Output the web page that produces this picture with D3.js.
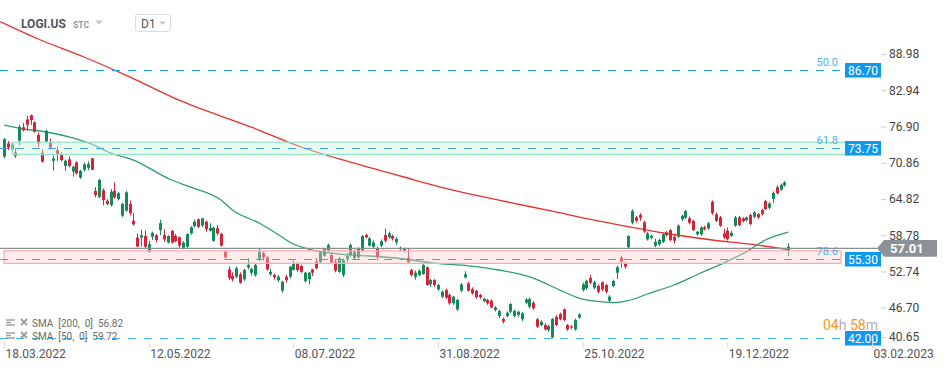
<!DOCTYPE html>
<html>
<head>
<meta charset="utf-8">
<script src="https://cdn.jsdelivr.net/npm/d3@7"></script>
<style>
  body { margin: 0; background: #fff; font-family: Roboto, "Open Sans", sans-serif; }
  svg { display: block; }
</style>
</head>
<body>
<div id="chart"></div>
<script>

// ----------------------------------------------------------------
// Data (LOGI.US, D1)
// ----------------------------------------------------------------

const dateLabels = ["18.03.2022", "12.05.2022", "08.07.2022", "31.08.2022", "25.10.2022", "19.12.2022", "03.02.2023"];
const dateLabelIdx = [0, 38, 76, 114, 152, 190, 228];
const priceTicks = [88.98, 82.94, 76.90, 70.86, 64.82, 58.78, 52.74, 46.70, 40.65];

const opens = [
  72.3, 74.5, 73.5, 73.0, 74.95, 77.2, 78.5, 79.2, 78.0, 75.9,
  72.95, 74.8, 74.6, 71.6, 73.4, 72.6, 70.75, 71.85, 69.8, 71.35,
  68.8, 70.1, 70.45, 72.0, 66.6, 65.6, 66.7, 64.95, 64.2, 66.6,
  65.2, 62.45, 63.3, 64.4, 61.6, 58.8, 58.8, 59.06, 56.45, 58.95,
  59.2, 60.06, 59.2, 58.0, 59.9, 59.06, 58.85, 57.1, 57.28, 59.5,
  60.7, 61.85, 60.8, 61.45, 59.95, 58.28, 60.35, 59.4, 56.45, 53.5,
  52.4, 52.28, 52.68, 51.85, 53.85, 52.95, 52.56, 55.06, 56.2, 55.5,
  52.68, 52.56, 51.7, 49.95, 52.28, 52.28, 53.4, 54.5, 54.06, 51.56,
  51.85, 53.5, 54.78, 54.78, 55.78, 56.6, 55.9, 54.78, 53.1, 52.56,
  55.18, 55.9, 55.35, 55.5, 56.56, 59.23, 57.45, 57.28, 57.0, 57.45,
  59.23, 58.85, 59.06, 58.0, 56.85, 56.56, 55.45, 53.4, 52.28, 52.56,
  52.73, 53.85, 51.0, 51.73, 50.18, 48.95, 50.06, 49.23, 47.85, 46.85,
  49.95, 52.18, 51.18, 50.23, 49.9, 49.23, 48.23, 48.4, 48.3, 46.73,
  45.73, 45.23, 45.73, 46.45, 45.73, 45.9, 45.18, 47.95, 47.28, 47.95,
  45.18, 44.23, 44.23, 43.4, 42.18, 45.6, 46.06, 46.85, 44.23, 44.0,
  43.5, 45.45, 50.06, 50.35, 52.1, 50.45, 50.73, 51.35, 50.9, 48.28,
  50.73, 52.95, 55.45, 54.4, 57.18, 61.28, 62.18, 62.56, 61.35, 58.5,
  58.78, 57.45, 57.68, 58.1, 59.68, 60.06, 58.95, 58.95, 61.85, 62.1,
  62.0, 61.6, 59.35, 59.35, 60.5, 60.35, 64.78, 62.68, 62.18, 59.5,
  59.95, 59.1, 60.78, 62.18, 62.0, 61.73, 62.56, 62.28, 62.73, 63.4,
  64.9, 63.78, 65.23, 67.2, 66.8, 67.5, 56.6
];
const highs = [
  75.4, 74.9, 74.7, 73.7, 77.6, 77.9, 79.1, 79.3, 78.2, 76.3,
  73.5, 76.8, 75.3, 72.5, 74.0, 73.0, 71.8, 72.3, 70.8, 71.5,
  70.1, 71.3, 71.5, 72.1, 67.2, 68.6, 67.0, 65.2, 66.9, 68.0,
  66.4, 64.6, 66.6, 65.0, 62.9, 59.5, 60.1, 60.0, 58.3, 59.8,
  59.4, 61.8, 60.2, 59.2, 60.1, 59.4, 59.0, 58.2, 59.5, 60.7,
  61.8, 62.0, 62.1, 61.6, 61.2, 60.6, 60.9, 59.6, 56.6, 54.0,
  53.0, 54.0, 53.0, 53.6, 55.4, 53.8, 54.5, 56.9, 56.5, 55.7,
  53.6, 52.8, 52.6, 51.6, 52.6, 54.1, 55.0, 54.7, 54.3, 53.1,
  53.1, 53.6, 55.4, 56.6, 57.0, 57.8, 56.3, 55.2, 55.6, 55.3,
  56.2, 57.8, 56.8, 57.2, 59.2, 59.4, 58.9, 58.3, 57.3, 58.5,
  60.3, 59.8, 59.3, 58.9, 57.3, 57.1, 57.0, 53.6, 53.3, 53.5,
  54.5, 54.0, 51.9, 51.9, 51.1, 50.0, 50.3, 49.5, 49.1, 48.6,
  51.2, 53.2, 51.4, 50.5, 50.1, 49.4, 48.8, 48.6, 48.5, 47.4,
  46.8, 45.5, 46.5, 47.9, 46.8, 46.6, 46.4, 48.7, 48.8, 48.2,
  45.4, 45.0, 44.5, 44.3, 45.4, 45.9, 46.3, 47.0, 44.4, 44.2,
  45.3, 46.2, 51.3, 51.8, 52.6, 51.6, 51.0, 51.5, 51.1, 49.2,
  51.8, 54.1, 55.8, 54.8, 59.2, 63.5, 62.4, 62.9, 61.6, 59.7,
  59.3, 58.6, 58.6, 59.6, 59.9, 60.2, 59.2, 61.0, 62.6, 63.4,
  62.3, 61.8, 59.9, 60.7, 60.8, 61.4, 65.0, 63.0, 62.4, 60.3,
  60.5, 59.9, 62.4, 62.4, 62.2, 62.3, 62.8, 63.2, 62.9, 63.6,
  65.1, 64.7, 66.5, 67.5, 67.8, 68.2, 57.85
];
const lows = [
  72.0, 73.4, 73.2, 72.1, 74.2, 76.5, 76.6, 77.6, 76.3, 73.9,
  71.3, 74.7, 73.5, 70.0, 71.6, 71.5, 69.9, 70.5, 68.95, 69.3,
  68.6, 69.8, 70.0, 70.1, 65.5, 65.4, 64.2, 64.2, 64.0, 65.3,
  65.0, 62.2, 63.1, 62.5, 60.8, 57.2, 57.3, 57.0, 56.3, 58.4,
  58.0, 59.2, 58.1, 57.8, 57.8, 58.0, 56.9, 56.85, 57.1, 59.3,
  60.5, 60.4, 60.6, 59.8, 59.8, 58.1, 59.2, 57.3, 55.3, 51.7,
  51.5, 52.0, 51.1, 51.6, 53.5, 52.5, 52.3, 54.9, 55.0, 53.3,
  52.4, 51.8, 51.4, 49.6, 51.3, 52.0, 53.3, 53.1, 52.9, 51.3,
  51.0, 52.4, 53.5, 54.5, 55.6, 56.4, 54.4, 53.0, 52.9, 52.2,
  54.7, 55.6, 55.1, 55.3, 56.4, 58.7, 57.3, 57.0, 55.0, 57.2,
  58.0, 58.6, 58.3, 57.6, 56.5, 56.3, 54.5, 52.3, 51.8, 52.4,
  52.6, 50.8, 50.6, 50.6, 49.9, 48.7, 48.6, 47.6, 47.6, 46.6,
  49.7, 52.0, 49.8, 49.3, 48.6, 48.6, 48.0, 47.6, 47.0, 46.5,
  45.4, 44.5, 45.5, 46.2, 45.5, 45.6, 44.9, 47.7, 47.0, 46.8,
  43.7, 44.0, 43.3, 43.1, 42.0, 44.0, 45.0, 44.9, 43.3, 43.5,
  43.3, 45.3, 49.8, 50.1, 51.0, 50.2, 49.5, 49.9, 49.5, 48.0,
  50.5, 51.9, 53.8, 53.6, 56.9, 61.0, 61.3, 61.6, 59.6, 58.3,
  58.5, 57.2, 57.4, 57.9, 59.0, 58.2, 57.8, 58.7, 61.6, 61.9,
  61.0, 59.9, 59.1, 59.1, 60.0, 60.1, 62.6, 61.4, 60.6, 58.6,
  58.3, 58.9, 60.6, 60.7, 61.3, 61.5, 60.9, 62.0, 61.9, 62.5,
  63.4, 63.5, 64.6, 66.0, 66.6, 67.3, 55.7
];
const closes = [
  75.2, 73.8, 74.35, 72.4, 77.28, 76.7, 77.6, 78.4, 76.45, 74.5,
  71.45, 76.6, 73.8, 72.0, 72.7, 71.7, 71.6, 70.75, 70.6, 69.5,
  69.95, 71.0, 71.06, 70.1, 65.9, 68.4, 65.05, 64.4, 66.45, 65.5,
  66.2, 64.4, 66.35, 62.85, 61.0, 57.3, 59.2, 57.28, 57.7, 59.6,
  58.4, 61.2, 58.5, 59.06, 57.95, 58.2, 57.45, 57.95, 59.4, 60.5,
  61.45, 60.6, 62.0, 60.2, 60.45, 60.45, 59.5, 57.45, 55.5, 52.1,
  51.85, 53.68, 51.28, 53.4, 54.23, 53.56, 54.23, 56.45, 55.5, 53.5,
  53.1, 52.2, 52.28, 51.45, 51.7, 53.95, 54.5, 53.4, 53.1, 52.95,
  52.95, 52.95, 53.68, 56.35, 56.85, 57.56, 54.68, 53.28, 55.35, 55.06,
  55.7, 57.56, 56.45, 57.0, 59.06, 58.85, 58.68, 58.0, 55.6, 58.2,
  58.28, 59.5, 58.6, 58.56, 57.1, 56.9, 54.68, 52.56, 52.95, 53.28,
  54.23, 50.9, 51.73, 50.9, 50.9, 49.78, 48.78, 47.85, 48.95, 48.4,
  51.0, 52.68, 49.95, 49.5, 48.85, 48.85, 48.6, 47.85, 47.18, 47.18,
  46.56, 44.78, 46.28, 47.73, 46.6, 46.45, 46.18, 48.5, 48.56, 47.0,
  43.95, 44.78, 43.5, 44.06, 45.23, 44.23, 45.18, 45.06, 43.5, 43.8,
  45.06, 46.0, 51.0, 51.6, 51.28, 51.35, 49.78, 50.18, 49.78, 48.95,
  51.56, 53.85, 54.78, 53.95, 59.06, 63.23, 61.6, 62.1, 59.8, 59.5,
  59.1, 58.1, 58.4, 59.35, 59.23, 58.4, 58.28, 60.8, 62.45, 63.23,
  61.28, 60.06, 59.78, 60.5, 60.18, 61.18, 62.85, 61.6, 60.78, 58.85,
  58.56, 59.6, 62.18, 60.9, 61.56, 62.18, 61.06, 63.0, 62.18, 62.68,
  63.56, 64.5, 66.28, 66.2, 67.6, 68.0, 57.3
];

// moving averages at a few bars
const sma200Idx = [-1, 9, 21, 33, 46, 65, 78, 92, 105, 118, 131, 144, 155, 165, 175, 186, 196, 206];
const sma200Val = [94.8, 91.9, 88.9, 85.6, 81.7, 77.2, 73.9, 71.2, 68.9, 66.7, 64.9, 63.2, 61.7, 60.5, 59.4, 58.4, 57.7, 56.82];
const sma50Idx = [0, 4, 11, 17, 23, 28, 34, 44, 49, 57, 60, 67, 73, 75, 81, 88, 96, 105, 113, 122, 130, 139, 146, 151, 157, 160, 164, 169, 176, 183, 189, 195, 200, 206];
const sma50Val = [77.56, 77.06, 76.4, 75.6, 74.4, 72.9, 71.73, 68.4, 67.23, 65.06, 63.4, 61.23, 58.9, 58.06, 56.73, 56.06, 55.73, 55.23, 54.56, 54.1, 53.4, 52.06, 50.06, 48.73, 48.1, 47.95, 48.28, 49.4, 50.9, 52.9, 54.56, 56.45, 58.4, 59.72];

const fiboLevels = [86.70, 73.75, 55.30];
const fiboNames = ["50.0", "61.8", "78.6"];
const supportLevel = 42.00;
const lastPrice = 57.01;
const greenZone = [72.65, 74.7];
const pinkZone = [54.5, 56.6];

// ----------------------------------------------------------------
// Setup
// ----------------------------------------------------------------

const width = 949;
const height = 370;
const plotRight = 845;
const upColor = "#138a58";
const downColor = "#d8223a";

const svg = d3.select("#chart").append("svg")
  .attr("width", width)
  .attr("height", height);

const x = d3.scaleLinear().domain([0, 228]).range([4, 872]);
const y = d3.scaleLinear().domain([40.9, 98.4]).range([345, 0]);

const plot = svg.append("g");

// ----------------------------------------------------------------
// Moving averages
// ----------------------------------------------------------------

function drawSma (idx, vals, color) {
  const line = d3.line()
    .x(function (d) { return x(d[0]); })
    .y(function (d) { return y(d[1]); })
    .curve(d3.curveMonotoneX);
  plot.append("path")
    .datum(d3.zip(idx, vals))
    .attr("d", line)
    .attr("fill", "none")
    .attr("stroke", color)
    .attr("stroke-width", 1.3);
}

drawSma(sma200Idx, sma200Val, "#e8312f");
drawSma(sma50Idx, sma50Val, "#2e9d70");

// ----------------------------------------------------------------
// Candles
// ----------------------------------------------------------------

const candles = d3.range(opens.length).map(function (i) {
  return { i: i, o: opens[i], h: highs[i], l: lows[i], c: closes[i] };
});

const cg = plot.selectAll("g.candle").data(candles).enter().append("g")
  .attr("class", "candle");

cg.append("line")
  .attr("x1", function (d) { return Math.round(x(d.i)) + 0.5; })
  .attr("x2", function (d) { return Math.round(x(d.i)) + 0.5; })
  .attr("y1", function (d) { return y(d.h); })
  .attr("y2", function (d) { return y(d.l); })
  .attr("stroke", function (d) { return d.c >= d.o ? upColor : downColor; })
  .attr("stroke-width", 1);

cg.append("rect")
  .attr("x", function (d) { return Math.round(x(d.i)) - 1; })
  .attr("width", 3)
  .attr("y", function (d) { return y(Math.max(d.o, d.c)); })
  .attr("height", function (d) { return Math.max(1, Math.abs(y(d.o) - y(d.c))); })
  .attr("fill", function (d) { return d.c >= d.o ? upColor : downColor; });

// ----------------------------------------------------------------
// Zones, levels
// ----------------------------------------------------------------

plot.append("rect")
  .attr("x", 12).attr("width", plotRight + 3 - 12)
  .attr("y", y(greenZone[1])).attr("height", y(greenZone[0]) - y(greenZone[1]))
  .attr("fill", "rgba(195, 242, 222, 0.4)")
  .attr("stroke", "#96e0c3").attr("stroke-width", 1.2);

plot.append("rect")
  .attr("x", 4).attr("width", plotRight - 4 - 4)
  .attr("y", y(pinkZone[1])).attr("height", y(pinkZone[0]) - y(pinkZone[1]))
  .attr("fill", "rgba(252, 205, 205, 0.38)")
  .attr("stroke", "#f3adad").attr("stroke-width", 1.2);

// current price line
plot.append("line")
  .attr("x1", 0).attr("x2", 877)
  .attr("y1", y(lastPrice)).attr("y2", y(lastPrice))
  .attr("stroke", "#8c9093").attr("stroke-width", 1.3);

function drawLevel (value, color, label) {
  const yy = Math.round(y(value)) + 0.5;
  plot.append("line")
    .attr("x1", 0).attr("x2", plotRight)
    .attr("y1", yy).attr("y2", yy)
    .attr("stroke", color).attr("stroke-width", 1.2)
    .attr("stroke-dasharray", "8,8");
  if (label) {
    plot.append("text")
      .attr("x", 838).attr("y", yy - 5)
      .attr("text-anchor", "end")
      .attr("font-size", 11)
      .attr("fill", "#4db2ea")
      .text(label);
  }
  plot.append("rect")
    .attr("x", 845).attr("y", yy - 7.5)
    .attr("width", 36).attr("height", 14.5)
    .attr("fill", "#0f98ef");
  plot.append("text")
    .attr("x", 863).attr("y", yy + 4.3)
    .attr("text-anchor", "middle")
    .attr("font-size", 12)
    .attr("fill", "#fff")
    .text(value.toFixed(2));
}

fiboLevels.forEach(function (v, k) {
  drawLevel(v, k === 0 ? "#1ba3f2" : "#4aa3e0", fiboNames[k]);
});
drawLevel(supportLevel, "#3fb4f2", null);

// last price arrow label
const yl = y(lastPrice);
svg.append("path")
  .attr("d", "M877," + yl + "L884," + (yl - 8.3) + "L937," + (yl - 8.3) + "L937," + (yl + 8.3) + "L884," + (yl + 8.3) + "Z")
  .attr("fill", "#8b9196");
svg.append("text")
  .attr("x", 890).attr("y", yl + 4.6)
  .attr("font-size", 13).attr("font-weight", "bold")
  .attr("fill", "#fff")
  .text(lastPrice.toFixed(2));

// ----------------------------------------------------------------
// Axes
// ----------------------------------------------------------------

const yAxis = svg.append("g")
  .attr("transform", "translate(881,-2.5)")
  .call(d3.axisRight(y).tickValues(priceTicks).tickFormat(d3.format(".2f")).tickSize(5).tickPadding(3));
yAxis.select(".domain").remove();
yAxis.selectAll("line").attr("stroke", "#cfcfcf");
yAxis.selectAll("text")
  .attr("font-family", "Roboto, sans-serif").attr("font-size", 12).attr("fill", "#444");
yAxis.selectAll(".tick").filter(function (d) { return d < 41; })
  .attr("transform", "translate(0,340)");

const xAxis = svg.append("g")
  .attr("transform", "translate(0,342)")
  .call(d3.axisBottom(x).tickValues(dateLabelIdx)
    .tickFormat(function (d, i) { return dateLabels[i]; })
    .tickSize(6).tickPadding(1));
xAxis.select(".domain").remove();
xAxis.selectAll("line").attr("stroke", "#d8d8d8");
xAxis.selectAll("text")
  .attr("font-family", "Roboto, sans-serif").attr("font-size", 12).attr("fill", "#555")
  .attr("text-anchor", "start").attr("x", 1);

// ----------------------------------------------------------------
// Header, legend, timer
// ----------------------------------------------------------------

svg.append("text").attr("x", 21).attr("y", 28)
  .attr("font-size", 12).attr("font-weight", "bold").attr("fill", "#4b5661")
  .text("LOGI.US");
svg.append("text").attr("x", 73).attr("y", 27.5)
  .attr("font-size", 8.5).attr("font-weight", "bold").attr("fill", "#8d9aa6")
  .text("STC");
svg.append("path").attr("d", "M95,20.5L103,20.5L99,24.5Z").attr("fill", "#c8c8c8");
svg.append("rect").attr("x", 135.5).attr("y", 14.5).attr("width", 35).attr("height", 17).attr("rx", 2)
  .attr("fill", "#fff").attr("stroke", "#dcdcdc");
svg.append("text").attr("x", 141).attr("y", 27.5)
  .attr("font-size", 12).attr("fill", "#555")
  .text("D1");
svg.append("path").attr("d", "M159,21.5L166,21.5L162.5,25Z").attr("fill", "#c8c8c8");

const legendRows = ["SMA  [200,  0]  56.82", "SMA  [50,  0]  59.72"];
legendRows.forEach(function (txt, k) {
  const by = 327 + k * 13;
  const g = svg.append("g").attr("fill", "#9a9a9a").attr("stroke", "#9a9a9a");
  [by - 7, by - 4.5, by - 2].forEach(function (yy, j) {
    g.append("line").attr("x1", 6).attr("x2", j === 1 ? 11 : 15).attr("y1", yy).attr("y2", yy).attr("stroke-width", 1.4);
  });
  g.append("path").attr("d", "M21," + (by - 8) + "L27," + (by - 2) + "M27," + (by - 8) + "L21," + (by - 2))
    .attr("stroke-width", 1.8);
  svg.append("text").attr("x", 32).attr("y", by)
    .attr("font-size", 10).attr("fill", "#6b6b6b")
    .attr("xml:space", "preserve")
    .style("white-space", "pre")
    .text(txt);
});

const timer = svg.append("text").attr("x", 823).attr("y", 329.5)
  .attr("font-size", 14);
timer.append("tspan").attr("fill", "#f7941d").text("04");
timer.append("tspan").attr("fill", "#b0b0b0").text("h ");
timer.append("tspan").attr("fill", "#f7941d").text("58");
timer.append("tspan").attr("fill", "#b0b0b0").text("m");

</script>
</body>
</html>
